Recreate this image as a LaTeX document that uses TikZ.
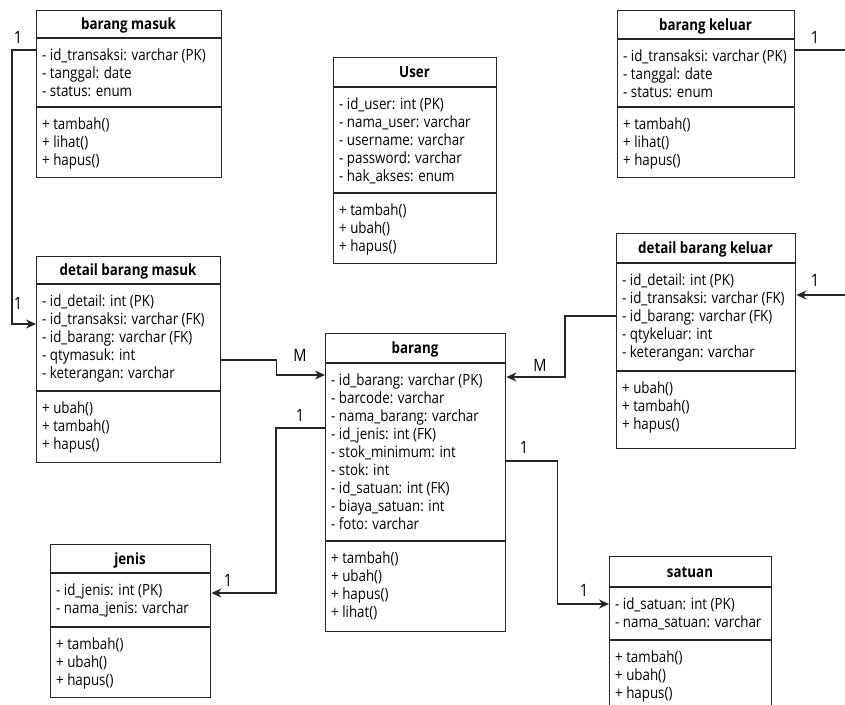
\documentclass[tikz,border=0pt]{standalone}
\usepackage{fontspec}
\setmainfont{Open Sans}[FakeStretch=0.86]
\usetikzlibrary{arrows.meta,calc}
\newcommand\umlbox[8]{% name, x1, y1, x2, y2, s1, s2, title
  \node[box, anchor=north west, minimum width={(#4-#2)*1pt}, minimum height={(#5-#3)*1pt}] (#1) at (#2,#3) {};
  \draw[sepl] (#2,#6) -- (#4,#6);
  \draw[sepl] (#2,#7) -- (#4,#7);
  \node[ttl, anchor=base] (#1-t) at ({(#2+#4)/2},{(#3+#6)/2+5.5}) {#8};
  \coordinate (#1-a) at ({#2+6},{#6+11});
  \coordinate (#1-m) at ({#2+6},{#7+11});
}
\begin{document}
\begin{tikzpicture}[x=1pt,y=-1pt,
  box/.style={draw, line width=1.4pt, rectangle, inner sep=0pt, color=black!85},
  ttl/.style={font=\fontsize{15.5}{18}\selectfont\bfseries, inner sep=0pt},
  txt/.style={font=\fontsize{15.5}{18}\selectfont, align=left, inner sep=0pt, anchor=north west},
  sepl/.style={line width=1.4pt, color=black!85},
  conn/.style={line width=1.4pt, color=black!85},
  arr/.style={conn, -{Stealth[length=10pt,width=9pt]}},
  lbl/.style={font=\fontsize{17}{19}\selectfont, inner sep=0pt}]
\useasboundingbox (0,0) rectangle (845,704);
\fill[white] (0,0) rectangle (845,704);

% barang masuk
\umlbox{bm}{36}{10}{221}{177}{38}{107}{barang masuk}
\node[txt] (bm-at) at (bm-a) {- id\_transaksi: varchar (PK)\\- tanggal: date\\- status: enum};
\node[txt] (bm-me) at (bm-m) {+ tambah()\\+ lihat()\\+ hapus()};

% barang keluar
\umlbox{bk}{617}{10}{794}{177}{39}{107}{barang keluar}
\node[txt] (bk-at) at (bk-a) {- id\_transaksi: varchar (PK)\\- tanggal: date\\- status: enum};
\node[txt] (bk-me) at (bk-m) {+ tambah()\\+ lihat()\\+ hapus()};

% User
\umlbox{us}{333}{57}{496}{263}{87}{193}{User}
\node[txt] (us-at) at (us-a) {- id\_user: int (PK)\\- nama\_user: varchar\\- username: varchar\\- password: varchar\\- hak\_akses: enum};
\node[txt] (us-me) at (us-m) {+ tambah()\\+ ubah()\\+ hapus()};

% detail barang masuk
\umlbox{dbm}{36}{256}{220}{462}{284}{391}{detail barang masuk}
\node[txt] (dbm-at) at (dbm-a) {- id\_detail: int (PK)\\- id\_transaksi: varchar (FK)\\- id\_barang: varchar (FK)\\- qtymasuk: int\\- keterangan: varchar};
\node[txt] (dbm-me) at (dbm-m) {+ ubah()\\+ tambah()\\+ hapus()};

% detail barang keluar
\umlbox{dbk}{616}{233}{795}{448}{263}{371}{detail barang keluar}
\node[txt] (dbk-at) at (dbk-a) {- id\_detail: int (PK)\\- id\_transaksi: varchar (FK)\\- id\_barang: varchar (FK)\\- qtykeluar: int\\- keterangan: varchar};
\node[txt] (dbk-me) at (dbk-m) {+ ubah()\\+ tambah()\\+ hapus()};

% barang
\umlbox{br}{325}{333}{505}{631}{363}{541}{barang}
\node[txt] (br-at) at (br-a) {- id\_barang: varchar (PK)\\- barcode: varchar\\- nama\_barang: varchar\\- id\_jenis: int (FK)\\- stok\_minimum: int\\- stok: int\\- id\_satuan: int (FK)\\- biaya\_satuan: int\\- foto: varchar};
\node[txt] (br-me) at (br-m) {+ tambah()\\+ ubah()\\+ hapus()\\+ lihat()};

% jenis
\umlbox{je}{50}{544}{210}{697}{573}{627}{jenis}
\node[txt] (je-at) at (je-a) {- id\_jenis: int (PK)\\- nama\_jenis: varchar};
\node[txt] (je-me) at (je-m) {+ tambah()\\+ ubah()\\+ hapus()};

% satuan
\umlbox{sa}{609}{556}{771}{714}{587}{640}{satuan}
\node[txt] (sa-at) at (sa-a) {- id\_satuan: int (PK)\\- nama\_satuan: varchar};
\node[txt] (sa-me) at (sa-m) {+ tambah()\\+ ubah()\\+ hapus()};

% connectors
\draw[arr] ($(bm.north west)+(0,40)$) -- ++(-24,0) |- ($(dbm.north west)+(0,68)$);
\node[lbl] (l1) at (18,37) {1};
\node[lbl] (l2) at (18,303) {1};

\coordinate (e1) at (845,50);
\draw[conn] ($(bk.north east)+(0,40)$) -- (e1);
\node[lbl] (l3) at (815,37) {1};

\coordinate (e2) at (845,295);
\draw[arr] (e2) -- ($(dbk.north east)+(0,62)$);
\node[lbl] (l4) at (815,280) {1};

\draw[arr] ($(dbm.north east)+(0,104)$) -- ++(55,0) |- ($(br.north west)+(0,42)$);
\node[lbl] (l5) at (300,355) {M};

\draw[arr] ($(dbk.north west)+(0,83)$) -- ++(-51,0) |- ($(br.north east)+(0,44)$);
\node[lbl] (l6) at (540,365) {M};

\draw[arr] ($(br.north west)+(0,95)$) -- ++(-49,0) |- ($(je.north east)+(0,49)$);
\node[lbl] (l7) at (300,415) {1};
\node[lbl] (l8) at (228,580) {1};

\draw[arr] ($(br.north east)+(0,128)$) -- ++(51,0) |- ($(sa.north west)+(0,48)$);
\node[lbl] (l9) at (524,447) {1};
\node[lbl] (l10) at (584,590) {1};
\end{tikzpicture}
\end{document}
